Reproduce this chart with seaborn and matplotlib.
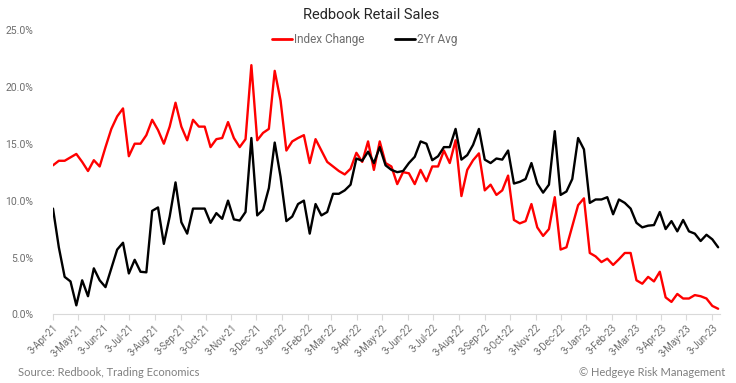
import numpy as np
import pandas as pd
import matplotlib
matplotlib.use("Agg")
import matplotlib.pyplot as plt
from matplotlib.lines import Line2D
import seaborn as sns

# ---------------- data ----------------
start_date = "2021-04-03"
n_weeks = 115

index_change = [
    13.1, 13.5, 13.5, 13.8, 14.1, 13.4, 12.6, 13.55, 13.0, 14.7, 16.3, 17.4, 18.1, 13.9,
    15.0, 15.0, 15.75, 17.1, 16.2, 15.0, 16.5, 18.6, 16.5, 15.3, 17.1, 16.5, 16.5, 14.7,
    15.4, 15.5, 16.9, 15.5, 14.7, 15.4,
    21.9, 15.3, 15.95, 16.3, 21.4, 18.8, 14.4, 15.2, 15.5, 15.75, 13.3, 15.4, 14.4, 13.4,
    13.0, 12.6, 12.3, 12.8, 14.2, 13.4, 15.2, 12.7, 15.2, 13.3, 13.0, 11.45, 12.5, 12.4,
    11.45, 12.7, 11.7, 13.0, 13.0, 14.4, 13.3, 15.3, 10.4, 12.7, 13.55, 14.15,
    10.9, 11.4, 10.5, 10.9, 12.2, 8.3, 8.0, 8.2, 9.7, 7.65, 6.9, 7.5, 10.3, 5.7, 5.9,
    7.75, 9.6, 10.2, 5.4, 5.1, 4.6, 4.9, 4.35, 4.85, 5.4, 5.4, 3.0, 2.7, 3.3, 2.9, 3.75,
    1.5, 1.1, 1.8, 1.4, 1.4, 1.7, 1.6, 1.4, 0.75, 0.5,
]

two_yr_avg = [
    9.3, 5.9, 3.3, 2.9, 0.8, 3.0, 1.6, 4.05, 3.0, 2.4, 4.05, 5.7, 6.3, 3.6, 4.8, 3.75,
    3.7, 9.1, 9.4, 6.2, 8.6, 11.6, 8.1, 7.1, 9.3, 9.3, 9.3, 8.05, 8.9, 8.4, 10.0, 8.35,
    8.25, 9.0,
    15.5, 8.7, 9.2, 11.1, 15.1, 12.1, 8.2, 8.6, 9.7, 10.0, 7.1, 9.7, 8.7, 9.0, 10.6, 10.6,
    10.9, 11.4, 13.7, 13.5, 14.3, 13.3, 14.7, 13.1, 12.7, 12.5, 12.6, 13.3, 13.85, 15.2,
    15.0, 13.55, 13.9, 14.7, 14.7, 16.3, 13.6, 14.0, 14.9, 16.3,
    13.6, 13.3, 13.7, 13.6, 14.4, 11.5, 11.65, 11.9, 13.3, 11.5, 10.7, 11.4, 16.1, 10.5,
    10.8, 11.9, 15.5, 14.5, 9.8, 10.1, 10.1, 10.3, 8.8, 10.1, 9.8, 9.3, 8.05, 7.65, 7.8,
    7.85, 9.0, 7.5, 8.2, 7.3, 8.3, 7.3, 7.1, 6.45, 7.0, 6.6, 5.9,
]

series_names = ["Index Change", "2Yr Avg"]
series_colors = ["#FF0000", "#000000"]

tick_dates = [
    "2021-04-03", "2021-05-03", "2021-06-03", "2021-07-03", "2021-08-03", "2021-09-03",
    "2021-10-03", "2021-11-03", "2021-12-03", "2022-01-03", "2022-02-03", "2022-03-03",
    "2022-04-03", "2022-05-03", "2022-06-03", "2022-07-03", "2022-08-03", "2022-09-03",
    "2022-10-03", "2022-11-03", "2022-12-03", "2023-01-03", "2023-02-03", "2023-03-03",
    "2023-04-03", "2023-05-03", "2023-06-03",
]
tick_labels = [
    "3-Apr-21", "3-May-21", "3-Jun-21", "3-Jul-21", "3-Aug-21", "3-Sep-21",
    "3-Oct-21", "3-Nov-21", "3-Dec-21", "3-Jan-22", "3-Feb-22", "3-Mar-22",
    "3-Apr-22", "3-May-22", "3-Jun-22", "3-Jul-22", "3-Aug-22", "3-Sep-22",
    "3-Oct-22", "3-Nov-22", "3-Dec-22", "3-Jan-23", "3-Feb-23", "3-Mar-23",
    "3-Apr-23", "3-May-23", "3-Jun-23",
]
y_ticks = [0, 5, 10, 15, 20, 25]
y_tick_labels = ["0.0%", "5.0%", "10.0%", "15.0%", "20.0%", "25.0%"]

# ---------------- frame ----------------
dates = pd.date_range(start_date, periods=n_weeks, freq="7D")
df = pd.DataFrame({
    "date": np.concatenate([dates, dates]),
    "value": index_change + two_yr_avg,
    "series": [series_names[0]] * n_weeks + [series_names[1]] * n_weeks,
})

sns.set_theme(style="white")
plt.rcParams["font.family"] = ["Roboto", "DejaVu Sans"]

gray = "#6E6E6E"
fig = plt.figure(figsize=(7.36, 3.83), dpi=100)
ax = fig.add_axes([0.072, 0.179, 0.906, 0.743])

sns.lineplot(data=df, x="date", y="value", hue="series", hue_order=series_names,
             palette=series_colors, linewidth=1.7, ax=ax, legend=False)

ax.set_xlim(dates[0], dates[-1] + pd.Timedelta(days=2))
ax.set_ylim(0, 25)
ax.set_yticks(y_ticks)
ax.set_yticklabels(y_tick_labels, color=gray, fontsize=7.5)
tick_pos = pd.to_datetime(tick_dates)
ax.set_xticks(tick_pos)
ax.set_xticklabels(tick_labels, rotation=45, ha="right", rotation_mode="anchor",
                   color=gray, fontsize=7)
ax.set_xlabel("")
ax.set_ylabel("")

for s in ["top", "right", "left"]:
    ax.spines[s].set_visible(False)
ax.spines["bottom"].set_color("#D9D9D9")
ax.spines["bottom"].set_linewidth(0.8)
ax.tick_params(axis="x", which="major", bottom=True, length=4, width=0.8,
               color="#D9D9D9", pad=2)
ax.tick_params(axis="y", left=False, pad=8)
ax.grid(False)

fig.text(0.504, 0.962, "Redbook Retail Sales", ha="center", va="center",
         fontsize=10.5, color="#262626")

handles = [Line2D([0], [0], color=c, lw=2) for c in series_colors]
fig.legend(handles, series_names, loc="center", bbox_to_anchor=(0.495, 0.896),
           ncol=2, frameon=False, fontsize=8.5, handlelength=1.7,
           handletextpad=0.15, columnspacing=2.6, labelcolor=gray)

fig.text(0.024, 0.027, "Source: Redbook, Trading Economics", ha="left", va="center",
         fontsize=8, color="#7F7F7F", family=["Lato", "DejaVu Sans"])
fig.text(0.985, 0.027, "\u00a9 Hedgeye Risk Management", ha="right", va="center",
         fontsize=8, color="#7F7F7F", family=["Lato", "DejaVu Sans"])

fig.savefig("out.png", dpi=100)
